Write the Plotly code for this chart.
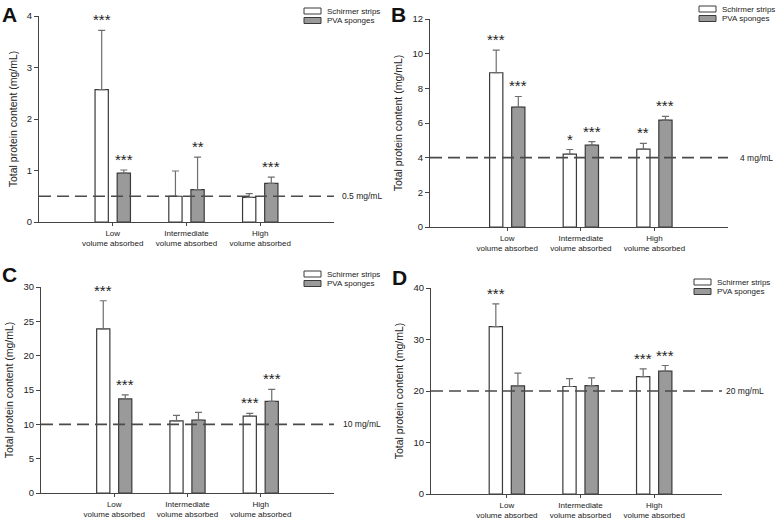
import plotly.graph_objects as go

# ---------------- data ----------------
categories = ["Low<br>volume absorbed", "Intermediate<br>volume absorbed", "High<br>volume absorbed"]
series_names = ["Schirmer strips", "PVA sponges"]
panel_letters = ["A", "B", "C", "D"]

a_schirmer = [2.57, 0.50, 0.48]
a_schirmer_err = [1.15, 0.49, 0.07]
a_pva = [0.95, 0.63, 0.75]
a_pva_err = [0.06, 0.63, 0.12]
a_schirmer_sig = ["***", "", ""]
a_pva_sig = ["***", "**", "***"]

b_schirmer = [8.90, 4.20, 4.49]
b_schirmer_err = [1.30, 0.27, 0.33]
b_pva = [6.92, 4.72, 6.17]
b_pva_err = [0.61, 0.21, 0.21]
b_schirmer_sig = ["***", "*", "**"]
b_pva_sig = ["***", "***", "***"]

c_schirmer = [23.9, 10.5, 11.2]
c_schirmer_err = [4.1, 0.8, 0.4]
c_pva = [13.7, 10.6, 13.35]
c_pva_err = [0.6, 1.15, 1.75]
c_schirmer_sig = ["***", "", "***"]
c_pva_sig = ["***", "", "***"]

d_schirmer = [32.5, 20.87, 22.8]
d_schirmer_err = [4.4, 1.53, 1.5]
d_pva = [21.0, 21.06, 23.85]
d_pva_err = [2.46, 1.5, 1.1]
d_schirmer_sig = ["***", "", "***"]
d_pva_sig = ["", "", "***"]

thresholds = [0.5, 4, 10, 20]
threshold_labels = ["0.5 mg/mL", "4 mg/mL", "10 mg/mL", "20 mg/mL"]
y_max = [4, 12, 30, 40]
y_dtick = [1, 2, 5, 10]
y_title = "Total protein content (mg/mL)"

# ---------------- layout helpers ----------------
W, H = 778, 521
FONT = "Liberation Sans, Arial, sans-serif"
TXT = "#222222"
AX = "#444444"
S_FILL = "#ffffff"
P_FILL = "#9a9a9a"
EDGE = "#3a3a3a"
ERRC = "#6e6e6e"

def px_x(v):
    return v / W

def px_y(v):
    return 1 - v / H

# pixel boxes: (left, right, top, bottom)
boxes = [(39, 334, 16, 222), (430, 728, 19, 227), (41, 334, 287, 493), (431, 722, 288, 494)]
xranges = [[-1, 3], [-1.05, 3], [-1, 3], [-1.03, 2.92]]
letter_pos = [(0, 1), (389, 1), (0, 261), (390, 264)]
legend_pos = [(304, 8), (699, 6), (304, 271), (694, 279)]
label_pos = [340, 738, 341, 724]

panels = [
    (a_schirmer, a_schirmer_err, a_pva, a_pva_err, a_schirmer_sig, a_pva_sig),
    (b_schirmer, b_schirmer_err, b_pva, b_pva_err, b_schirmer_sig, b_pva_sig),
    (c_schirmer, c_schirmer_err, c_pva, c_pva_err, c_schirmer_sig, c_pva_sig),
    (d_schirmer, d_schirmer_err, d_pva, d_pva_err, d_schirmer_sig, d_pva_sig),
]

fig = go.Figure()
annotations = []
shapes = []
OFFSET = 0.15

for i, (s, se, p, pe, ssig, psig) in enumerate(panels):
    n = "" if i == 0 else str(i + 1)
    xa, ya = "x" + n, "y" + n
    for name, vals, errs, fill in ((series_names[0], s, se, S_FILL), (series_names[1], p, pe, P_FILL)):
        fig.add_trace(go.Bar(
            x=categories, y=vals, name=name, xaxis=xa, yaxis=ya,
            marker=dict(color=fill, line=dict(color=EDGE, width=1.2)),
            error_y=dict(type="data", array=errs, arrayminus=[0] * len(errs), symmetric=False,
                         color=ERRC, thickness=1.2, width=3.5),
            showlegend=False, hoverinfo="skip",
        ))
    # significance stars
    for j in range(len(categories)):
        for vals, errs, sig, off in ((s, se, ssig, -OFFSET), (p, pe, psig, OFFSET)):
            if sig[j]:
                annotations.append(dict(
                    x=j + off, y=vals[j] + errs[j], xref=xa, yref=ya, text=sig[j],
                    showarrow=False, yanchor="bottom", xanchor="center", yshift=0,
                    font=dict(family=FONT, size=15, color=TXT)))
    # threshold dashed line
    shapes.append(dict(type="line", xref=xa + " domain", yref=ya, x0=0, x1=1,
                       y0=thresholds[i], y1=thresholds[i],
                       line=dict(color="#4a4a4a", width=1.6, dash="12px,6px")))
    annotations.append(dict(x=px_x(label_pos[i]), y=thresholds[i], xref="paper", yref=ya,
                            text=threshold_labels[i], showarrow=False, xanchor="left",
                            yanchor="middle", font=dict(family=FONT, size=8.5, color=TXT)))
    # panel letter
    lx, ly = letter_pos[i]
    annotations.append(dict(x=px_x(lx), y=px_y(ly), xref="paper", yref="paper",
                            text="<b>" + panel_letters[i] + "</b>", showarrow=False,
                            xanchor="left", yanchor="top",
                            font=dict(family=FONT, size=21, color="#111111")))
    # legend
    gx, gy = legend_pos[i]
    for k, (nm, fill) in enumerate(((series_names[0], S_FILL), (series_names[1], P_FILL))):
        top = gy + k * 9.5
        shapes.append(dict(type="rect", xref="paper", yref="paper",
                           x0=px_x(gx), x1=px_x(gx + 17), y0=px_y(top + 6), y1=px_y(top),
                           fillcolor=fill, line=dict(color=EDGE, width=1)))
        annotations.append(dict(x=px_x(gx + 21), y=px_y(top + 3), xref="paper", yref="paper",
                                text=nm, showarrow=False, xanchor="left", yanchor="middle",
                                font=dict(family=FONT, size=8, color=TXT)))
    # axes
    l, r, t, b = boxes[i]
    fig.update_layout(**{
        "xaxis" + n: dict(domain=[px_x(l), px_x(r)], range=xranges[i], showline=True,
                          linecolor=AX, linewidth=1, ticks="outside", ticklen=3, tickcolor=AX,
                          showgrid=False, zeroline=False, automargin=False, tickangle=0,
                          tickfont=dict(family=FONT, size=8, color=TXT), anchor=ya),
        "yaxis" + n: dict(domain=[px_y(b), px_y(t)], range=[0, y_max[i]], dtick=y_dtick[i],
                          showline=True, linecolor=AX, linewidth=1, ticks="outside", ticklen=4,
                          tickcolor=AX, showgrid=False, zeroline=False, automargin=False,
                          tickfont=dict(family=FONT, size=9.5, color=TXT), anchor=xa,
                          title=dict(text=y_title, standoff=7,
                                     font=dict(family=FONT, size=10.5, color=TXT))),
    })

fig.update_layout(
    width=W, height=H, margin=dict(l=0, r=0, t=0, b=0),
    paper_bgcolor="white", plot_bgcolor="white",
    barmode="group", bargap=0.4, bargroupgap=0.4,
    annotations=annotations, shapes=shapes, showlegend=False,
    font=dict(family=FONT, color=TXT),
)

fig.write_html("out.html", config={"displayModeBar": False},
               post_script="document.body.style.margin='0';")
